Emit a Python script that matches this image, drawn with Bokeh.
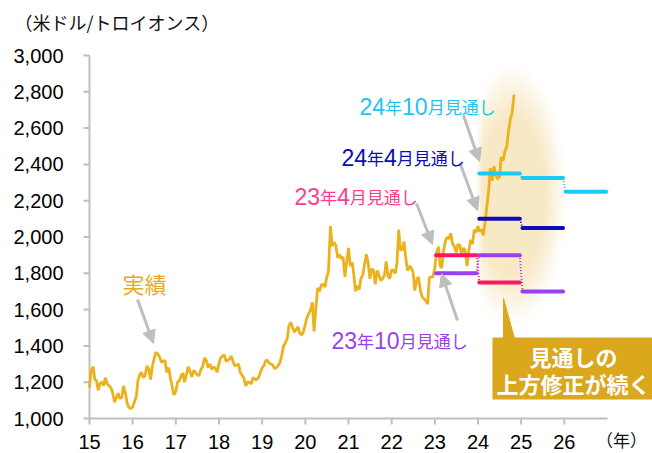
import re
import numpy as np
import pandas as pd
from bokeh.plotting import figure
from bokeh.models import Range1d, Label, Arrow, NormalHead
from bokeh.core.properties import value
from bokeh.embed import file_html
from bokeh.resources import INLINE

# ---------------- data ----------------
# gold price (USD/troy oz), semi-monthly readings (1st and 15th of each month)
gold_2015 = [1172, 1265, 1285, 1215, 1210, 1155, 1195, 1200, 1180, 1225, 1190, 1180,
             1170, 1145, 1090, 1115, 1140, 1110, 1115, 1180, 1140, 1085, 1060, 1055]
gold_2016 = [1062, 1090, 1120, 1210, 1240, 1255, 1225, 1235, 1290, 1275, 1215, 1285,
             1330, 1365, 1355, 1340, 1310, 1315, 1320, 1255, 1280, 1225, 1175, 1130]
gold_2017 = [1150, 1200, 1210, 1235, 1250, 1200, 1245, 1285, 1260, 1230, 1265, 1255,
             1240, 1235, 1270, 1285, 1335, 1320, 1280, 1300, 1270, 1285, 1275, 1255]
gold_2018 = [1305, 1335, 1345, 1350, 1315, 1320, 1330, 1345, 1310, 1290, 1295, 1300,
             1250, 1240, 1220, 1180, 1200, 1200, 1190, 1225, 1215, 1215, 1225, 1250]
gold_2019 = [1280, 1290, 1320, 1320, 1305, 1300, 1295, 1275, 1280, 1290, 1310, 1345,
             1400, 1415, 1440, 1510, 1530, 1500, 1475, 1490, 1505, 1470, 1460, 1475]
gold_2020 = [1520, 1555, 1580, 1600, 1640, 1480, 1620, 1720, 1700, 1735, 1740, 1725,
             1780, 1810, 2060, 1950, 1970, 1955, 1885, 1905, 1880, 1890, 1780, 1860]
gold_2021 = [1940, 1840, 1860, 1790, 1700, 1730, 1710, 1770, 1790, 1845, 1905, 1860,
             1770, 1825, 1815, 1740, 1815, 1790, 1760, 1770, 1790, 1865, 1785, 1770]
gold_2022 = [1820, 1815, 1800, 1860, 2040, 1930, 1930, 1975, 1880, 1815, 1840, 1830,
             1805, 1705, 1765, 1780, 1705, 1670, 1660, 1650, 1630, 1775, 1780, 1780]
gold_2023 = [1830, 1915, 1945, 1840, 1830, 1920, 1980, 2000, 1990, 2020, 1960, 1950,
             1915, 1960, 1955, 1905, 1940, 1925, 1840, 1925, 1985, 1960, 2040, 2025]
gold_2024 = [2060, 2030, 2040, 2010, 2080, 2160, 2260, 2380, 2310, 2390, 2340, 2320,
             2330, 2440, 2420, 2470, 2500, 2580, 2650, 2680, 2785]

# annual outlooks (year -> forecast)
fc_years = [2023, 2024, 2025, 2026]
fc_2304 = [1900, 1750, None, None]   # 23年4月見通し
fc_2310 = [1800, 1900, 1700, None]   # 23年10月見通し
fc_2404 = [None, 2100, 2050, None]   # 24年4月見通し
fc_2410 = [None, 2350, 2325, 2250]   # 24年10月見通し

x_ticks = list(range(15, 27))
x_tick_labels = [str(t) for t in x_ticks]
y_ticks = list(range(1000, 3001, 200))
y_tick_labels = [f"{v:,}" for v in y_ticks]

# ---------------- layout helpers ----------------
X0, X1, Y0, Y1 = 15, 27, 1000, 3000          # axis extents
FL, FT, FW, FH = 89, 55, 518, 363             # axis box in page pixels
W, H = 652, 453
KX = (X1 - X0) / FW
KY = (Y1 - Y0) / FH


def dx(px):
    return X0 + (px - FL) * KX


def dy(py):
    return Y0 + (FT + FH - py) * KY


GOLD = "#EBB21E"
CYAN_L, CYAN_T = "#1CC8F5", "#1CC4F2"
NAVY = "#0B0BB8"
PINK_L, PINK_T = "#FF1560", "#FF3D8F"
PURP = "#9B40F0"
BOX = "#DAA71D"
ARROW = "#BEBEBE"
AXIS = "#BFBFBF"
JP = "Noto Sans CJK JP"
LAT = "Liberation Sans"

p = figure(width=W, height=H, x_range=Range1d(dx(0), dx(W)), y_range=Range1d(dy(H), dy(0)),
           output_backend="svg", toolbar_location=None, title=None,
           x_axis_location=None, y_axis_location=None, min_border=0)
p.outline_line_color = None
p.grid.visible = False
p.background_fill_color = "white"
p.border_fill_color = "white"

# ---------------- glow behind recent period ----------------
GL, GB, GW, GH = 474, 335, 96, 280
cols = GL + np.arange(GW) + 0.5
rows = GB - (np.arange(GH) + 0.5)
PX, PY = np.meshgrid(cols, rows)
r2 = ((PX - 512) / 55.0) ** 2 + ((PY - 195) / 135.0) ** 2
a = np.clip((1 - r2) / 0.65, 0, 1) ** 1.3
a *= np.clip((PX - 475) / 7.0, 0, 1)
img = np.empty((GH, GW), dtype=np.uint32)
view = img.view(dtype=np.uint8).reshape((GH, GW, 4))
view[..., 0] = 236
view[..., 1] = 192
view[..., 2] = 95
view[..., 3] = (0.36 * a * 255).astype(np.uint8)
p.image_rgba(image=[img], x=dx(GL), y=dy(GB), dw=GW * KX, dh=GH * KY)

# ---------------- axes (drawn from the tick arrays) ----------------
p.segment([X0], [Y0], [X1], [Y0], line_color=AXIS, line_width=2)
p.segment([X0], [Y0], [X0], [Y1], line_color=AXIS, line_width=2)
p.segment(x_ticks, [Y0] * len(x_ticks), x_ticks, [Y0 - 6 * KY] * len(x_ticks),
          line_color=AXIS, line_width=2)
p.segment([X0] * len(y_ticks), y_ticks, [X0 - 6 * KX] * len(y_ticks), y_ticks,
          line_color=AXIS, line_width=2)
p.text(x=x_ticks, y=[Y0 - 23 * KY] * len(x_ticks), text=x_tick_labels,
       text_font=value(LAT), text_font_size=value("20px"), text_color="#000000",
       text_align="center", text_baseline="middle")
p.text(x=[X0 - 26 * KX] * len(y_ticks), y=y_ticks, text=y_tick_labels,
       text_font=value(LAT), text_font_size=value("20px"), text_color="#000000",
       text_align="right", text_baseline="middle")

# ---------------- actual gold price ----------------
gold = np.array(gold_2015 + gold_2016 + gold_2017 + gold_2018 + gold_2019 +
                gold_2020 + gold_2021 + gold_2022 + gold_2023 + gold_2024, dtype=float)
dates = pd.date_range("2015-01-01", periods=len(gold), freq="SMS")
gx = 15 + (dates - pd.Timestamp("2015-01-01")).days.values / 365.25
p.line(gx, gold, line_color=GOLD, line_width=2.8)

# ---------------- outlooks ----------------
for vals, col in ((fc_2304, PINK_L), (fc_2310, PURP), (fc_2404, NAVY), (fc_2410, CYAN_L)):
    sx0, sx1, sy = [], [], []
    cx0, cy0, cx1, cy1 = [], [], [], []
    prev = None
    for yr, v in zip(fc_years, vals):
        if v is None:
            prev = None
            continue
        x = yr - 2000
        sx0.append(x + 0.03)
        sx1.append(x + 0.97)
        sy.append(v)
        if prev is not None:
            cx0.append(x - 0.03)
            cy0.append(prev)
            cx1.append(x + 0.03)
            cy1.append(v)
        prev = v
    p.segment(cx0, cy0, cx1, cy1, line_color=col, line_width=2, line_dash="1 2")
    p.segment(sx0, sy, sx1, sy, line_color=col, line_width=4, line_cap="round")

# ---------------- annotations ----------------
arrows = [((137, 299), (153, 343)), ((416, 203), (432, 244)), ((460, 164), (477, 210)),
          ((463, 115), (479, 161)), ((457, 320), (441, 273))]
for (sx, sy_), (ex, ey) in arrows:
    p.add_layout(Arrow(end=NormalHead(size=13, fill_color=ARROW, line_color=ARROW),
                       x_start=dx(sx), y_start=dy(sy_), x_end=dx(ex), y_end=dy(ey),
                       line_color=ARROW, line_width=3))


def rich_label(txt, color, left_px, base_px):
    off = 0.0
    for part in re.findall(r"\d+|\D+", txt):
        if part.isdigit():
            font, size, w = LAT, 23, 0.556 * 23 * len(part)
        else:
            font, size, w = JP, 17, 17.0 * len(part)
        p.add_layout(Label(x=dx(left_px), y=dy(base_px), x_offset=off, text=part,
                           text_font=font, text_font_size=f"{size}px", text_color=color,
                           text_align="left", text_baseline="alphabetic"))
        off += w


rich_label("24年10月見通し", CYAN_T, 359, 106)
rich_label("24年4月見通し", NAVY, 341, 157)
rich_label("23年4月見通し", PINK_T, 294, 196)
rich_label("23年10月見通し", PURP, 331, 340)

p.add_layout(Label(x=dx(122), y=dy(282), text="実績", text_font=JP, text_font_size="22px",
                   text_color="#E3AD1E", text_align="left", text_baseline="middle"))

# callout
p.patch([dx(503), dx(503), dx(514)], [dy(298), dy(338), dy(338)], color=BOX)
p.quad(left=[dx(492)], right=[dx(652)], top=[dy(337)], bottom=[dy(399)],
       fill_color=BOX, line_color=None)
for line_txt, cy in (("見通しの", 355), ("上方修正が続く", 382)):
    p.add_layout(Label(x=dx(573), y=dy(cy), text=line_txt, text_font=JP,
                       text_font_style="bold", text_font_size="22px", text_color="white",
                       text_align="center", text_baseline="middle"))

# axis titles
p.add_layout(Label(x=dx(14), y=dy(21), text="（米ドル/トロイオンス）", text_font=JP,
                   text_font_size="18px", text_color="#111111", text_baseline="middle"))
p.add_layout(Label(x=dx(621), y=dy(439), text="（年）", text_font=JP, text_font_size="17px",
                   text_color="#111111", text_align="center", text_baseline="middle"))

open("out.html", "w").write(file_html(p, INLINE))
